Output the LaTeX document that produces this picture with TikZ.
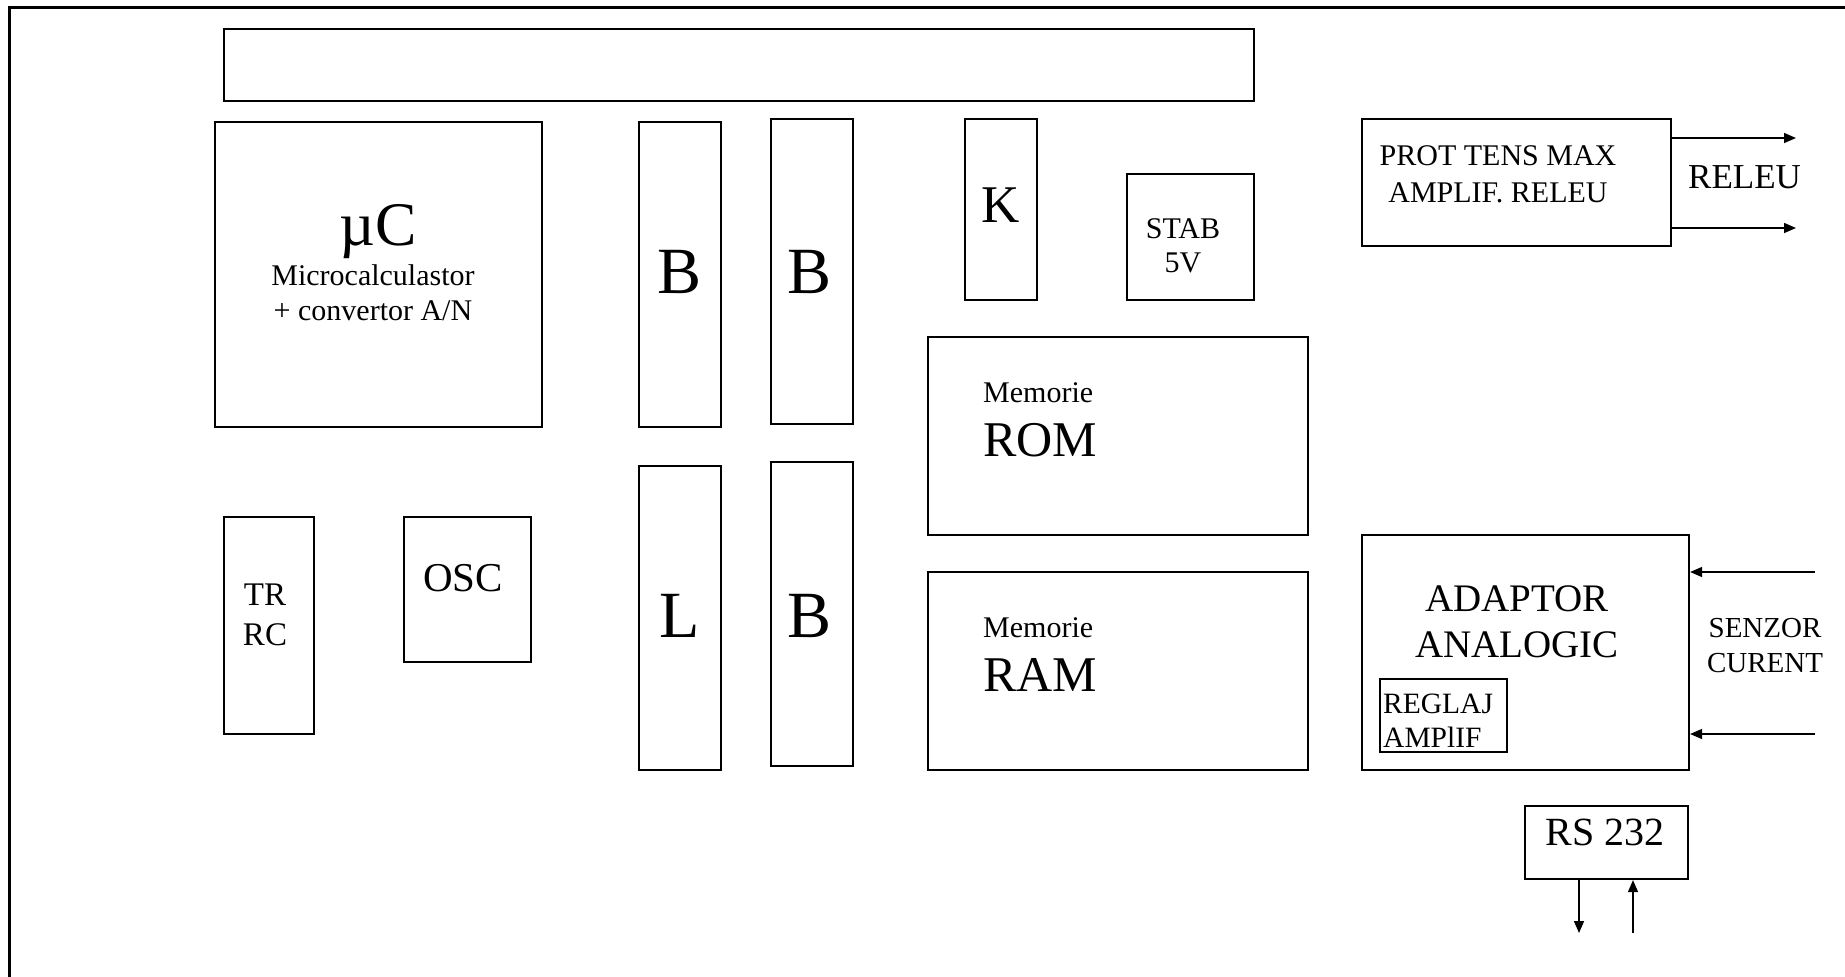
\documentclass[tikz,border=0pt]{standalone}
\usepackage{fontspec}
\setmainfont{Liberation Serif}
\usepackage{tikz}
\usetikzlibrary{arrows.meta, positioning, calc}

\newcommand{\fs}[2]{\fontsize{#1}{#2}\selectfont}

\begin{document}
\begin{tikzpicture}[
          x=1pt, y=-1pt,
          blk/.style={draw, line width=2.2pt, inner sep=0pt},
          thinblk/.style={draw, line width=1.3pt, inner sep=0pt},
          lbl/.style={inner sep=0pt, anchor=base, align=center},
          arr/.style={-{Triangle[length=12pt, width=10pt]}, line width=1.5pt},
        ]
        \useasboundingbox (0,0) rectangle (1845,977);
        \clip (0,0) rectangle (1845,977);
        \draw[line width=3pt] (9,7) rectangle (1900,1100);

        % blocks
        \node[blk, minimum width=1030pt, minimum height=72pt] (bar) at (739,65) {};
        \node[blk, minimum width=327pt, minimum height=305pt] (uc) at (378.5,274.5) {};
        \node[blk, minimum width=82pt, minimum height=305pt] (b1) at (680,274.5) {};
        \node[blk, minimum width=82pt, minimum height=305pt] (b2) at (812,271.5) {};
        \node[blk, minimum width=82pt, minimum height=304pt] (l1) at (680,618) {};
        \node[blk, minimum width=82pt, minimum height=304pt] (b3) at (812,614) {};
        \node[blk, minimum width=72pt, minimum height=181pt] (k) at (1001,209.5) {};
        \node[blk, minimum width=127pt, minimum height=126pt] (stab) at (1190.5,237) {};
        \node[blk, minimum width=380pt, minimum height=198pt] (rom) at (1118,436) {};
        \node[blk, minimum width=380pt, minimum height=198pt] (ram) at (1118,671) {};
        \node[blk, minimum width=309pt, minimum height=127pt] (prot) at (1516.5,182.5) {};
        \node[blk, minimum width=327pt, minimum height=235pt] (adapt) at (1525.5,652.5) {};
        \node[thinblk, minimum width=127pt, minimum height=73pt] (reglaj) at (1443.5,715.5) {};
        \node[blk, minimum width=163pt, minimum height=73pt] (rs) at (1606.5,842.5) {};
        \node[blk, minimum width=90pt, minimum height=217pt] (trrc) at (269,625.5) {};
        \node[blk, minimum width=127pt, minimum height=145pt] (osc) at (467.5,589.5) {};

        % texts (base of a two-line label = its last line)
        \node[lbl, font=\fs{62}{70}] (uct) at (378,245) {µC};
        \node[lbl, font=\fs{30}{35}] (uctx) at (373,320) {Microcalculastor\\+ convertor A/N};
        \node[lbl, font=\fs{66}{70}] (b1t) at (680,293) {B};
        \node[lbl, font=\fs{66}{70}] (b2t) at (810,293) {B};
        \node[lbl, font=\fs{66}{70}] (l1t) at (680,637) {L};
        \node[lbl, font=\fs{66}{70}] (b3t) at (810,637) {B};
        \node[lbl, font=\fs{53}{60}] (kt) at (1001,222) {K};
        \node[lbl, font=\fs{30}{34}] (stabt) at (1183,272) {STAB\\5V};
        \node[lbl, font=\fs{30}{35}, anchor=base west] (romm) at (983,402) {Memorie};
        \node[lbl, font=\fs{50}{60}, anchor=base west] (romt) at (983,456) {ROM};
        \node[lbl, font=\fs{30}{35}, anchor=base west] (ramm) at (983,637) {Memorie};
        \node[lbl, font=\fs{50}{60}, anchor=base west] (ramt) at (983,691) {RAM};
        \node[lbl, font=\fs{33}{40}] (trrct) at (265,645) {TR\\RC};
        \node[lbl, font=\fs{41}{45}] (osct) at (463,591) {OSC};
        \node[lbl, font=\fs{30}{37}] (prott) at (1498,202) {PROT TENS MAX\\AMPLIF. RELEU};
        \node[lbl, font=\fs{35}{40}, anchor=base west] (releu) at (1688,188) {RELEU};
        \node[lbl, font=\fs{39}{46}] (adaptt) at (1517,657) {ADAPTOR\\ANALOGIC};
        \node[lbl, font=\fs{29}{35}] (senzor) at (1765,672) {SENZOR\\CURENT};
        \node[lbl, font=\fs{29.5}{34}, align=left, anchor=base west] (reglajt) at (1383,747) {REGLAJ\\AMPlIF};
        \node[lbl, font=\fs{40}{45}] (rst) at (1605,845) {RS 232};

        % connectors
        \coordinate (r1) at (1796,138);
        \coordinate (r2) at (1796,228);
        \coordinate (s1) at (1815,572);
        \coordinate (s2) at (1815,734);
        \coordinate (t1) at (1579,933);
        \coordinate (t2) at (1633,933);

        \draw[arr] (prot.east |- r1) -- (r1);
        \draw[arr] (prot.east |- r2) -- (r2);
        \draw[arr] (s1) -- (s1 -| adapt.east);
        \draw[arr] (s2) -- (s2 -| adapt.east);
        \draw[arr] (rs.south -| t1) -- (t1);
        \draw[arr] (t2) -- (rs.south -| t2);
      \end{tikzpicture}
\end{document}
